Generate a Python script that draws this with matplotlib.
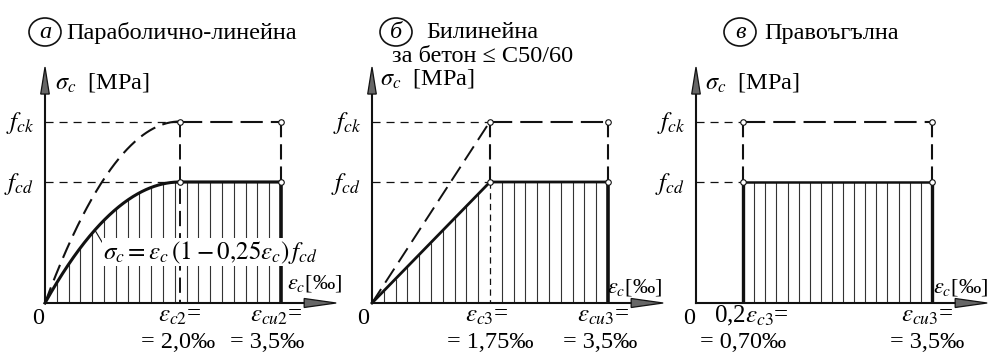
import numpy as np
import matplotlib
matplotlib.use("Agg")
import matplotlib.pyplot as plt
from matplotlib.patches import Ellipse, Polygon

plt.rcParams["mathtext.fontset"] = "stix"
plt.rcParams["font.family"] = ["Liberation Serif", "DejaVu Serif"]
plt.rcParams["lines.scale_dashes"] = False

# ---------------- data (strain in per mille, stress in units of f_cd) ----------------
f_ck = 1.5
f_cd = 1.0
eps_c2, eps_cu2 = 2.0, 3.5          # parabola-rectangle
eps_c3, eps_cu3 = 1.75, 3.5         # bilinear
eps_rect0 = 0.70                    # rectangular block start
titles = ["Параболично-линейна", "Билинейна", "Правоъгълна"]
circ_letters = ["а", "б", "в"]
subtitle_b = "за бетон ≤ C50/60"
lab_a = [r"$\varepsilon_{c2}$=", "= 2,0‰", r"$\varepsilon_{cu2}$=", "= 3,5‰"]
lab_b = [r"$\varepsilon_{c3}$=", "= 1,75‰", r"$\varepsilon_{cu3}$=", "= 3,5‰"]
lab_c = [r"0,2$\varepsilon_{c3}$=", "= 0,70‰", r"$\varepsilon_{cu3}$=", "= 3,5‰"]

W, H, DPI = 993, 354, 100
fig = plt.figure(figsize=(W / DPI, H / DPI), dpi=DPI)
SX, SY, OY = 67.4, 121.0, 303.0
origins = [45.0, 372.0, 696.0]
x_tip, y_tip = 4.32, 1.95

FS = 17.5
FM = 18
THIN_H = (5.8, 4.3)
THIN_V = (4.5, 3.2)
HEAVY_H = (16, 5.8)
HEAVY_V = (11, 5)
K = "#111111"


def panel_axes(ox):
    ax = fig.add_axes([0, 0, 1, 1])
    ax.set_xlim(-ox / SX, (W - ox) / SX)
    ax.set_ylim((OY - H) / SY, OY / SY)
    ax.axis("off")
    ax.patch.set_visible(False)
    return ax


def dline(ax, xs, ys, lw, dashes, z=3):
    ln, = ax.plot(xs, ys, color=K, lw=lw, zorder=z, solid_capstyle="butt")
    ln.set_dashes(dashes)
    return ln


def axes_arrows(ax):
    ax.plot([0, 0], [0, y_tip - 0.1], color=K, lw=1.5, zorder=4)
    ax.plot([0, x_tip - 0.2], [0, 0], color=K, lw=1.5, zorder=4)
    hl, hw = 27 / SY, 4.3 / SX
    ax.add_patch(Polygon([[0, y_tip], [-hw, y_tip - hl], [hw, y_tip - hl]], closed=True,
                         fc="#666666", ec=K, lw=0.9, zorder=5))
    hl2, hw2 = 32 / SX, 4.5 / SY
    ax.add_patch(Polygon([[x_tip, 0], [x_tip - hl2, hw2], [x_tip - hl2, -hw2]], closed=True,
                         fc="#666666", ec=K, lw=0.9, zorder=5))


def hatch(ax, xs, tops):
    ax.vlines(xs, 0, tops, color="#333333", lw=0.8, zorder=2)


def circles(ax, xs, ys):
    ax.plot(xs, ys, "o", ms=4, mfc="white", mec=K, mew=0.8, zorder=6, ls="none")


def par(e, f):
    e = np.asarray(e, dtype=float)
    return np.where(e < eps_c2, f * (1 - (1 - e / eps_c2) ** 2), f)


axa, axb, axc = [panel_axes(o) for o in origins]

# ---- panel a ----
hx = np.arange(1, 20) * 0.175
hatch(axa, hx, par(hx, f_cd))
e = np.linspace(0, eps_c2, 200)
axa.plot(np.r_[e, eps_cu2], np.r_[par(e, f_cd), f_cd], color=K, lw=2.2, zorder=4)
axa.plot([eps_c2, eps_cu2], [f_cd, f_cd], color=K, lw=1.6, zorder=4)
axa.plot([eps_cu2, eps_cu2], [0, f_cd], color=K, lw=2.6, zorder=4, solid_capstyle="butt")
dline(axa, e, par(e, f_ck), 1.5, (12, 5.5))
dline(axa, [0, eps_c2], [f_ck, f_ck], 0.9, THIN_H)
dline(axa, [0, eps_c2], [f_cd, f_cd], 0.9, THIN_H)
dline(axa, [eps_c2, eps_cu2], [f_ck, f_ck], 1.5, HEAVY_H)
dline(axa, [eps_cu2, eps_cu2], [f_ck, f_cd], 1.5, HEAVY_V)
dline(axa, [eps_c2, eps_c2], [f_ck, 0], 1.4, HEAVY_V)
circles(axa, [eps_c2, eps_cu2, eps_c2, eps_cu2], [f_ck, f_ck, f_cd, f_cd])
axes_arrows(axa)
# leader + formula
e_l = 0.74
axa.plot([e_l, 0.85], [par(e_l, f_cd), 0.50], color=K, lw=0.8, zorder=4)
axa.text(0.86, 0.42, r"$\sigma_c = \varepsilon_c\,(1 - 0{,}25\varepsilon_c)\,f_{cd}$",
         fontsize=FM, ha="left", va="center", zorder=7,
         bbox=dict(fc="white", ec="none", pad=0.5))

# ---- panel b ----
hx = np.arange(1, 20) * 0.175
hx = hx[np.abs(hx - eps_c3) > 1e-6]
hatch(axb, hx, np.minimum(hx / eps_c3, 1) * f_cd)
axb.plot([0, eps_c3, eps_cu3], [0, f_cd, f_cd], color=K, lw=2.0, zorder=4)
axb.plot([eps_cu3, eps_cu3], [0, f_cd], color=K, lw=2.6, zorder=4, solid_capstyle="butt")
dline(axb, [0, eps_c3], [0, f_ck], 1.4, (12, 5.5))
dline(axb, [0, eps_c3], [f_ck, f_ck], 0.9, THIN_H)
dline(axb, [0, eps_c3], [f_cd, f_cd], 0.9, THIN_H)
dline(axb, [eps_c3, eps_cu3], [f_ck, f_ck], 1.5, HEAVY_H)
dline(axb, [eps_cu3, eps_cu3], [f_ck, f_cd], 1.5, HEAVY_V)
dline(axb, [eps_c3, eps_c3], [f_ck, f_cd], 1.5, HEAVY_V)
dline(axb, [eps_c3, eps_c3], [f_cd, 0], 0.9, THIN_V)
circles(axb, [eps_c3, eps_cu3, eps_c3, eps_cu3], [f_ck, f_ck, f_cd, f_cd])
axes_arrows(axb)

# ---- panel c ----
hx = eps_rect0 + np.arange(1, 17) * (eps_cu3 - eps_rect0) / 17
hatch(axc, hx, np.full_like(hx, f_cd))
axc.plot([eps_rect0, eps_cu3], [f_cd, f_cd], color=K, lw=1.8, zorder=4)
axc.plot([eps_rect0, eps_rect0], [0, f_cd], color=K, lw=2.4, zorder=4, solid_capstyle="butt")
axc.plot([eps_cu3, eps_cu3], [0, f_cd], color=K, lw=2.4, zorder=4, solid_capstyle="butt")
dline(axc, [0, eps_rect0], [f_ck, f_ck], 0.9, THIN_H)
dline(axc, [0, eps_rect0], [f_cd, f_cd], 0.9, THIN_H)
dline(axc, [eps_rect0, eps_cu3], [f_ck, f_ck], 1.5, HEAVY_H)
dline(axc, [eps_rect0, eps_rect0], [f_ck, f_cd], 1.5, HEAVY_V)
dline(axc, [eps_cu3, eps_cu3], [f_ck, f_cd], 1.5, HEAVY_V)
circles(axc, [eps_rect0, eps_cu3, eps_rect0, eps_cu3], [f_ck, f_ck, f_cd, f_cd])
axes_arrows(axc)

# ---------------- text in pixel overlay ----------------
tx = fig.add_axes([0, 0, 1, 1])
tx.set_xlim(0, W)
tx.set_ylim(H, 0)
tx.axis("off")
tx.patch.set_visible(False)

circ_pos = [(45, 32), (396, 32), (740, 32)]
title_x = [66, 426, 764]
for (cx, cy), L, tt, tl in zip(circ_pos, circ_letters, titles, title_x):
    tx.add_patch(Ellipse((cx, cy), 32, 28, fc="none", ec=K, lw=1.2))
    tx.text(cx, cy + 1, L, fontsize=FS, style="italic", ha="center", va="center")
    tx.text(tl, cy + 1, tt, fontsize=FS, ha="left", va="center")
tx.text(392, 57, subtitle_b, fontsize=FS, ha="left", va="center")

sig_pos = [(55, 83), (380, 78), (705, 83)]
for (sx_, sy_) in sig_pos:
    tx.text(sx_, sy_, r"$\sigma_c$  [MPa]", fontsize=FS, ha="left", va="center")

for ox in origins:
    tx.text(ox - 11, 123, r"$f_{ck}$", fontsize=FM, ha="right", va="center")
    tx.text(ox - 11, 184, r"$f_{cd}$", fontsize=FM, ha="right", va="center")
zero_x = [38, 363, 689]
for zx in zero_x:
    tx.text(zx, 318, "0", fontsize=FS, ha="center", va="center")
eps_lab = [(287, 283), (607, 287), (933, 287)]
for (ex, ey) in eps_lab:
    tx.text(ex, ey, r"$\varepsilon_c$[‰]", fontsize=16, ha="left", va="center")

bottom = [(lab_a, [180, 178, 276, 267]), (lab_b, [487, 490, 603, 600]), (lab_c, [751, 743, 927, 927])]
for labs, xs in bottom:
    tx.text(xs[0], 316, labs[0], fontsize=FM, ha="center", va="center")
    tx.text(xs[1], 342, labs[1], fontsize=FS, ha="center", va="center")
    tx.text(xs[2], 316, labs[2], fontsize=FM, ha="center", va="center")
    tx.text(xs[3], 342, labs[3], fontsize=FS, ha="center", va="center")

fig.savefig("out.png", dpi=DPI, facecolor="white")
